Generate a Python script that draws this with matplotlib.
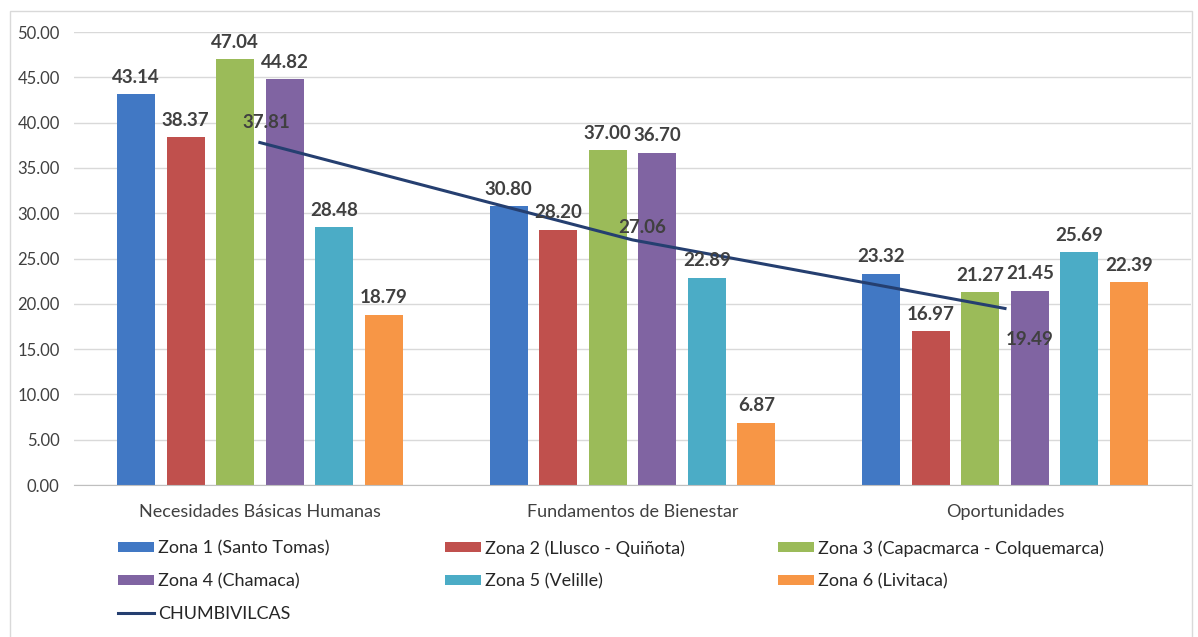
import numpy as np
import matplotlib
matplotlib.use("Agg")
import matplotlib.pyplot as plt
from matplotlib.patches import Rectangle

plt.rcParams["font.family"] = ["Lato", "DejaVu Sans"]

categories = ["Necesidades Básicas Humanas", "Fundamentos de Bienestar", "Oportunidades"]
zonas = [
    "Zona 1 (Santo Tomas)",
    "Zona 2 (Llusco - Quiñota)",
    "Zona 3 (Capacmarca - Colquemarca)",
    "Zona 4 (Chamaca)",
    "Zona 5 (Velille)",
    "Zona 6 (Livitaca)",
]
zona1 = [43.14, 30.80, 23.32]
zona2 = [38.37, 28.20, 16.97]
zona3 = [47.04, 37.00, 21.27]
zona4 = [44.82, 36.70, 21.45]
zona5 = [28.48, 22.89, 25.69]
zona6 = [18.79, 6.87, 22.39]
chumbivilcas = [37.81, 27.06, 19.49]

colors = ["#4178c4", "#c0504d", "#9bbb59", "#8064a2", "#4bacc6", "#f79646"]
line_color = "#253f70"
label_color = "#404040"

fig = plt.figure(figsize=(11.98, 6.37), dpi=100)
ax = fig.add_axes([0.0614, 0.2386, 0.933, 0.711])

# light outer frame like the Excel chart area
fig.patches.append(Rectangle((0.008, -0.01), 0.987, 0.993, transform=fig.transFigure,
                             fill=False, edgecolor="#d9d9d9", lw=1.0))

x = np.arange(len(categories))
step = 0.133
width = 0.102
series = [zona1, zona2, zona3, zona4, zona5, zona6]
handles = []
for i, (vals, col, name) in enumerate(zip(series, colors, zonas)):
    pos = x + (i - 2.5) * step
    bars = ax.bar(pos, vals, width=width, color=col, label=name, zorder=2)
    handles.append(bars)
    for b, v in zip(bars, vals):
        ax.annotate(f"{v:.2f}", (b.get_x() + b.get_width() / 2, v),
                    xytext=(0, 6), textcoords="offset points",
                    ha="center", va="bottom", fontsize=13.5, fontweight="bold",
                    color=label_color, zorder=5)

line, = ax.plot(x, chumbivilcas, color=line_color, lw=2.2, label="CHUMBIVILCAS", zorder=3)
line_offsets = [(5, 8), (7, 3), (18, -16)]
for xi, v, off in zip(x, chumbivilcas, line_offsets):
    ax.annotate(f"{v:.2f}", (xi, v), xytext=off, textcoords="offset points",
                ha="center", va="bottom" if off[1] > 0 else "top",
                fontsize=13.5, fontweight="bold", color=label_color, zorder=6)

ax.set_xlim(-0.5, 2.5)
ax.set_ylim(0, 50)
ax.set_yticks(np.arange(0, 50.1, 5))
ax.set_yticklabels([f"{t:.2f}" for t in np.arange(0, 50.1, 5)])
ax.set_xticks(x)
ax.set_xticklabels(categories)
ax.tick_params(axis="both", length=0, labelsize=12, colors="#404040")
ax.tick_params(axis="y", pad=10)
ax.tick_params(axis="x", pad=14, labelsize=13)
ax.yaxis.grid(True, color="#d9d9d9", lw=1.0, zorder=0)
ax.set_axisbelow(True)
for s in ["top", "right", "left"]:
    ax.spines[s].set_visible(False)
ax.spines["bottom"].set_color("#bfbfbf")

# legend laid out row by row in three columns (one legend per column)
all_handles = handles + [line]
all_labels = zonas + ["CHUMBIVILCAS"]
columns = [[0, 3, 6], [1, 4], [2, 5]]
col_x = [0.0985, 0.3715, 0.6494]
for idxs, cx in zip(columns, col_x):
    leg = fig.legend([all_handles[i] for i in idxs], [all_labels[i] for i in idxs],
                     loc="upper left", bbox_to_anchor=(cx, 0.152),
                     frameon=False, fontsize=13, handlelength=2.0, handleheight=0.45,
                     handletextpad=0.2, labelspacing=0.93, borderaxespad=0,
                     borderpad=0)
    for t in leg.get_texts():
        t.set_color("#262626")

fig.savefig("out.png", dpi=100)
